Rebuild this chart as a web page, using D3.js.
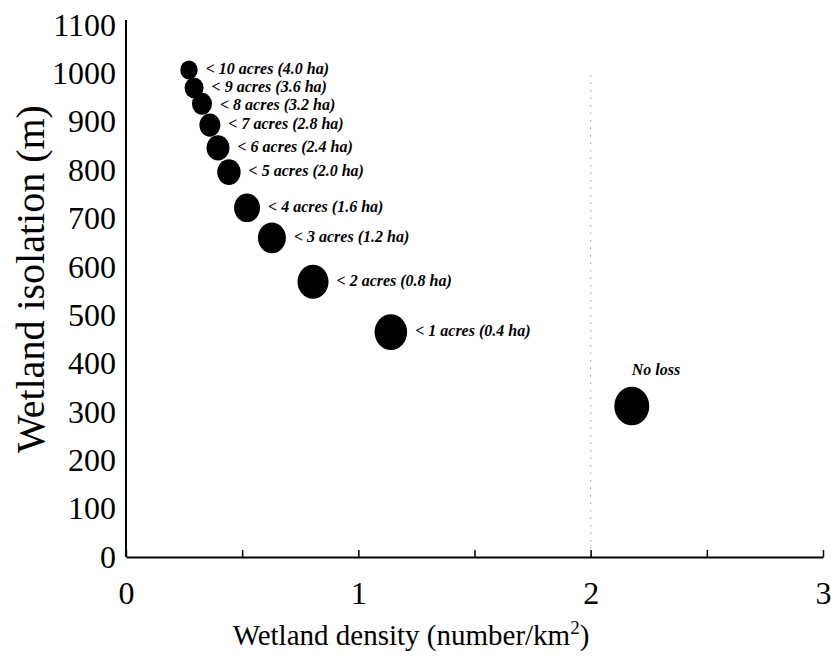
<!DOCTYPE html>
<html>
<head>
<meta charset="utf-8">
<script src="https://cdn.jsdelivr.net/npm/d3@7"></script>
<style>
  body { margin: 0; background: #fff; }
  svg text { font-family: "Liberation Serif", "Times New Roman", serif; fill: #000; }
</style>
</head>
<body>
<svg id="chart" width="831" height="659"></svg>
<script>
// size classes lost
const lossLabels = ["< 10 acres (4.0 ha)", "< 9 acres (3.6 ha)", "< 8 acres (3.2 ha)", "< 7 acres (2.8 ha)",
    "< 6 acres (2.4 ha)", "< 5 acres (2.0 ha)", "< 4 acres (1.6 ha)", "< 3 acres (1.2 ha)",
    "< 2 acres (0.8 ha)", "< 1 acres (0.4 ha)", "No loss"];
const density = [0.271, 0.293, 0.327, 0.361, 0.396, 0.443, 0.521, 0.628, 0.805, 1.140, 2.177];
const isolation = [1007, 970, 937, 893, 846, 796, 722, 660, 569, 465, 312];
// relative dot size per scenario
const dotSize = [8.7, 9.5, 10, 10.5, 11.5, 11.7, 13, 14, 15.5, 16.3, 17.5];

const xTicks = [0, 0.5, 1, 1.5, 2, 2.5, 3];
const yTicks = [0, 100, 200, 300, 400, 500, 600, 700, 800, 900, 1000, 1100];

const svg = d3.select("#chart");

const x = d3.scaleLinear().domain([0, 3]).range([126, 823]);
const y = d3.scaleLinear().domain([0, 1100]).range([557, 25]);
const r = d3.scaleLinear().domain([0, 20]).range([0, 20]);

// dotted reference line at density 2
svg.append("line")
    .attr("x1", x(2)).attr("x2", x(2))
    .attr("y1", 75).attr("y2", y(0))
    .attr("stroke", "#999")
    .attr("stroke-width", 1)
    .attr("stroke-dasharray", "1.5,6");

// x axis
const xAxis = svg.append("g")
    .attr("transform", `translate(0,${y(0)})`)
    .call(d3.axisBottom(x)
        .tickValues(xTicks)
        .tickSizeInner(-7)
        .tickSizeOuter(0)
        .tickPadding(24)
        .tickFormat(d => Number.isInteger(d) ? d : ""));
xAxis.select(".domain").attr("stroke-width", 2);
xAxis.selectAll(".tick line").attr("stroke-width", 1.5);
xAxis.selectAll("text").style("font-size", "32px");

// y axis (no ticks)
const yAxis = svg.append("g")
    .attr("transform", `translate(${x(0)},0)`)
    .call(d3.axisLeft(y)
        .tickValues(yTicks)
        .tickSize(0)
        .tickPadding(10)
        .tickFormat(d3.format("d")));
yAxis.select(".domain").attr("d", `M0,${y(0)}V20`).attr("stroke-width", 2);
yAxis.selectAll("text").style("font-size", "32px");

// axis titles
const xTitle = svg.append("text")
    .attr("x", 411)
    .attr("y", 645)
    .attr("text-anchor", "middle")
    .style("font-size", "29px");
xTitle.append("tspan").text("Wetland density (number/km");
xTitle.append("tspan").attr("dy", -11).style("font-size", "19px").text("2");
xTitle.append("tspan").attr("dy", 11).text(")");

svg.append("text")
    .attr("transform", "translate(44,279) rotate(-90)")
    .attr("text-anchor", "middle")
    .style("font-size", "40px")
    .text("Wetland isolation (m)");

// dots
const points = lossLabels.map((label, i) => ({label, dx: density[i], iso: isolation[i], s: dotSize[i]}));

svg.append("g")
    .selectAll("ellipse")
    .data(points)
    .join("ellipse")
    .attr("cx", d => x(d.dx))
    .attr("cy", d => y(d.iso))
    .attr("rx", d => r(d.s))
    .attr("ry", d => r(d.s) * 1.1)
    .attr("fill", "#000");

// label baselines, pushed down when they would collide
let prevY = -Infinity;
points.forEach(d => {
    if (d.label === "No loss") {
        d.ly = y(d.iso) - r(d.s) * 1.1 - 12;
        d.lx = x(d.dx);
    } else {
        d.ly = Math.max(y(d.iso) + 4, prevY + 18);
        d.lx = x(d.dx) + r(d.s) + 8;
        prevY = d.ly;
    }
});

svg.append("g")
    .selectAll("text")
    .data(points)
    .join("text")
    .attr("x", d => d.lx)
    .attr("y", d => d.ly)
    .style("font-size", "16px")
    .style("font-weight", "bold")
    .style("font-style", "italic")
    .text(d => d.label);
</script>
</body>
</html>
